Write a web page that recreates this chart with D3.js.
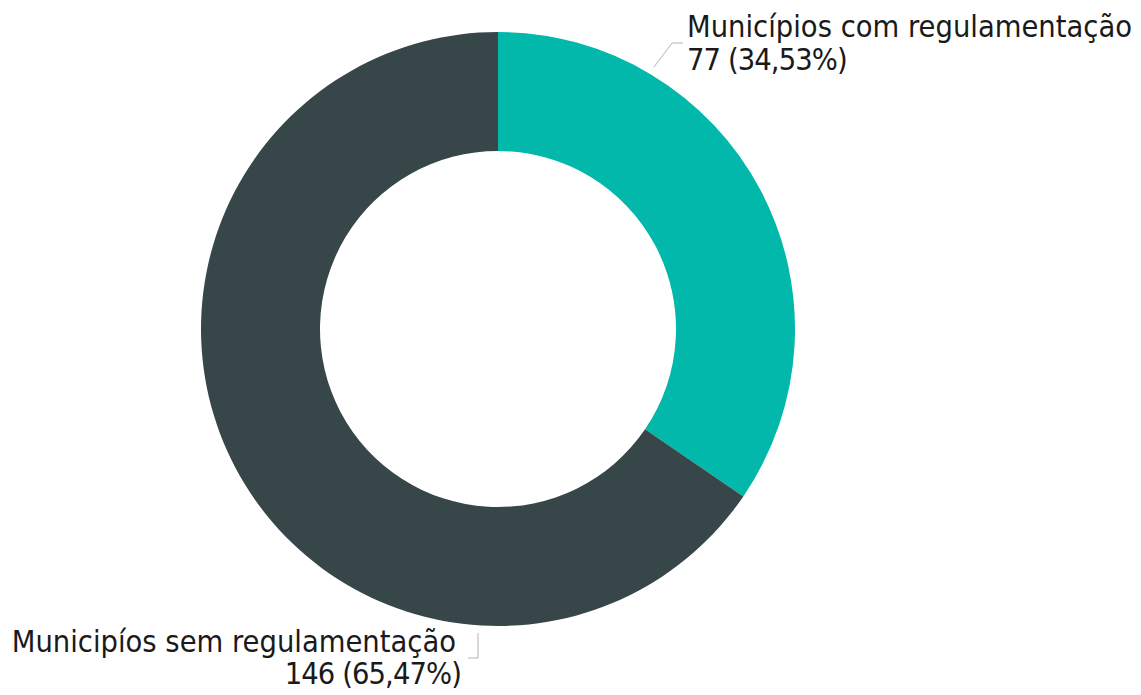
<!DOCTYPE html>
<html><head><meta charset="utf-8">
<script src="https://cdn.jsdelivr.net/npm/d3@7"></script>
<style>body{margin:0;background:#fff}svg{display:block}</style>
</head><body>
<svg id="c" width="1141" height="695"></svg>
<script>
const categories = ["Municípios com regulamentação", "Municipíos sem regulamentação"];
const values = [77, 146];
const percentLabels = ["34,53%", "65,47%"];
const colors = ["#01B8AA", "#374649"];

const W = 1141, H = 695;
const cx = 498, cy = 329, R = 297, r = 178;
const svg = d3.select("#c");
const g = svg.append("g").attr("transform", `translate(${cx},${cy})`);
const pie = d3.pie().sort(null).value(d => d);
const arcs = pie(values);
const arc = d3.arc().innerRadius(r).outerRadius(R);
g.selectAll("path").data(arcs).join("path")
  .attr("d", arc).attr("fill", (d, i) => colors[i]);

const font = "'DejaVu Sans'";
const fs = 30.5;
const labels = [
  {anchor: "start", x: 687, y1: 37, y2: 70, line: [[654, 67], [672, 43], [683, 43]]},
  {anchor: "end", x: 456, y1: 652, y2: 684, line: [[468, 658], [478, 658], [478, 633]]}
];
labels.forEach((L, i) => {
  svg.append("polyline").attr("points", L.line.map(p => p.join(",")).join(" "))
    .attr("fill", "none").attr("stroke", "#b3b3b3").attr("stroke-width", 1);
  const t = svg.append("text").attr("font-family", font).attr("font-size", fs)
    .attr("font-stretch", "condensed").attr("fill", "#1a1a1a").attr("text-anchor", L.anchor);
  t.append("tspan").attr("x", L.x).attr("y", L.y1).text(categories[i]);
  t.append("tspan").attr("x", i === 1 ? L.x + 5 : L.x).attr("y", L.y2)
    .attr("letter-spacing", -0.9).text(`${values[i]} (${percentLabels[i]})`);
});
</script>
</body></html>
